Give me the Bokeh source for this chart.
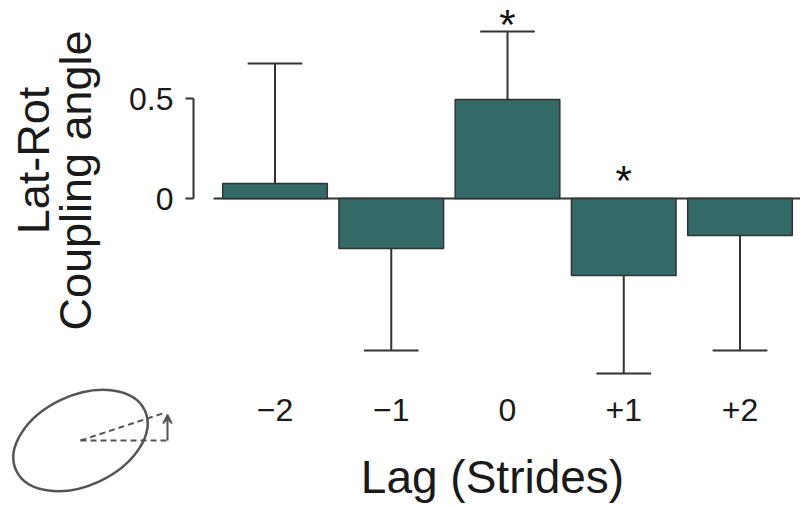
import numpy as np
from bokeh.plotting import figure
from bokeh.models import Range1d, FixedTicker, Arrow, VeeHead, ColumnDataSource
from bokeh.core.properties import value
from bokeh.embed import file_html
from bokeh.resources import INLINE

# ---- data ----
lags = ["\u22122", "\u22121", "0", "+1", "+2"]
means = [0.075, -0.25, 0.495, -0.385, -0.185]
err_ends = [0.675, -0.76, 0.835, -0.875, -0.76]
significant = [False, False, True, True, False]
y_ticks = [0, 0.5]
y_tick_labels = ["0", "0.5"]
y_title = ["Lat-Rot", "Coupling angle"]
x_title = "Lag (Strides)"

FONT = "Liberation Sans"
BAR = "#336966"
INK = "#333333"
TXT = "#1a1a1a"
ICON = "#555555"

W, H = 800, 505
PX_X = 116.25          # pixels per lag category
PX_Y = 200.0           # pixels per unit of coupling angle
ORIGIN_X, ORIGIN_Y = 274.5, 198.0   # picture position of (lag index 0, value 0)

x0 = -ORIGIN_X / PX_X
x1 = x0 + W / PX_X
y1 = ORIGIN_Y / PX_Y
y0 = y1 - H / PX_Y

def dx(px):  # picture pixel -> data x
    return (px - ORIGIN_X) / PX_X

def dy(py):  # picture pixel -> data y
    return (ORIGIN_Y - py) / PX_Y

p = figure(width=W, height=H, output_backend="svg", toolbar_location=None,
           x_range=Range1d(x0, x1), y_range=Range1d(y0, y1),
           min_border=0)
p.outline_line_color = None
p.grid.visible = False
p.background_fill_color = "white"
p.border_fill_color = "white"

idx = list(range(len(lags)))
src = ColumnDataSource(dict(x=idx, top=means, end=err_ends,
                            cl=[i - 0.235 for i in idx], cr=[i + 0.235 for i in idx]))

# baseline
p.segment(x0=[dx(213)], y0=[0], x1=[x1], y1=[0], line_color=INK, line_width=2)

# error bars
p.segment(x0="x", y0="top", x1="x", y1="end", source=src, line_color=INK, line_width=2)
p.segment(x0="cl", y0="end", x1="cr", y1="end", source=src, line_color=INK, line_width=2)

# bars
p.vbar(x="x", top="top", bottom=0, width=0.9, source=src,
       fill_color=BAR, line_color=INK, line_width=1.5)

# significance stars
sx = [i for i, s in zip(idx, significant) if s]
sy = [(e + 0.1525) if m > 0 else 0.21 for m, e, s in zip(means, err_ends, significant) if s]
p.text(x=sx, y=sy, text=["*"] * len(sx), text_align="center", text_baseline="top",
       text_font=value(FONT), text_font_size="42px", text_color="#111111")

# x axis (placed inside the canvas)
p.xaxis.fixed_location = dy(378)
p.xaxis.ticker = FixedTicker(ticks=idx)
p.xaxis.major_label_overrides = {i: l for i, l in zip(idx, lags)}
p.xaxis.axis_line_color = None
p.xaxis.major_tick_line_color = None
p.xaxis.minor_tick_line_color = None
p.xaxis.major_label_text_font = FONT
p.xaxis.major_label_text_font_size = "32px"
p.xaxis.major_label_text_color = TXT
p.xaxis.major_label_standoff = 14

# x axis title
p.text(x=[dx(492)], y=[dy(476)], text=[x_title], text_align="center",
       text_baseline="middle", text_font=value(FONT), text_font_size="46px",
       text_color=TXT)

# y axis (bracket from 0 to 0.5)
p.yaxis.fixed_location = dx(193)
p.yaxis.ticker = FixedTicker(ticks=y_ticks)
p.yaxis.major_label_overrides = {t: l for t, l in zip(y_ticks, y_tick_labels)}
p.yaxis.bounds = (y_ticks[0], y_ticks[-1])
p.yaxis.axis_line_color = INK
p.yaxis.axis_line_width = 2
p.yaxis.major_tick_line_color = INK
p.yaxis.major_tick_line_width = 2
p.yaxis.major_tick_out = 8
p.yaxis.major_tick_in = 0
p.yaxis.minor_tick_line_color = None
p.yaxis.major_label_text_font = FONT
p.yaxis.major_label_text_font_size = "32px"
p.yaxis.major_label_text_color = TXT
p.yaxis.major_label_standoff = 12

# y axis title (two lines, rotated)
p.text(x=[dx(33), dx(75)], y=[dy(160), dy(180)], text=y_title, angle=np.pi / 2,
       text_align="center", text_baseline="middle",
       text_font=value(FONT), text_font_size="45px", text_color=TXT)

# coupling-angle icon (ellipse with angle indicator)
ecx, ecy = 80, 440
p.ellipse(x=[dx(ecx)], y=[dy(ecy)], width=[142], height=[90], angle=np.deg2rad(25),
          width_units="screen", height_units="screen",
          fill_color=None, line_color=ICON, line_width=2.5)
p.segment(x0=[dx(ecx), dx(ecx)], y0=[dy(ecy), dy(ecy)],
          x1=[dx(165), dx(167)], y1=[dy(412), dy(440)],
          line_color=ICON, line_width=2, line_dash="6 4")
p.add_layout(Arrow(x_start=dx(167), y_start=dy(440), x_end=dx(167), y_end=dy(414),
                   end=VeeHead(size=9, line_color=ICON, fill_color=ICON, line_width=1.5),
                   line_color=ICON, line_width=2))

open("out.html", "w").write(file_html(p, INLINE))
